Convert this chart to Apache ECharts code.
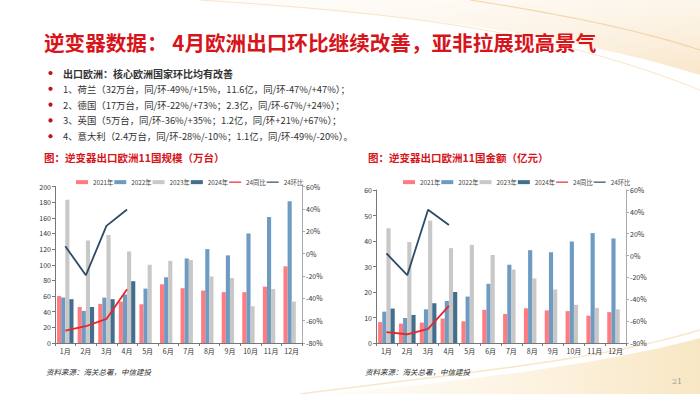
<!DOCTYPE html>
<html><head><meta charset="utf-8">
<script src="https://cdn.jsdelivr.net/npm/echarts@6/dist/echarts.min.js"></script>
<style>html,body{margin:0;padding:0;background:#fff;}#c{width:700px;height:394px;}</style>
</head><body><div id="c"></div>
<script>
const months = ['1月','2月','3月','4月','5月','6月','7月','8月','9月','10月','11月','12月'];
const seriesNames = ['2021年','2022年','2023年','2024年','24同比','24环比'];
// 规模（万台）
const scale2021 = [60,46,50,53,49.5,75,70,67,65,65,72,98];
const scale2022 = [58,41,58,62,69.5,84,108,120,112,140,161,181];
const scale2023 = [183,131,138,117,100,105,106,85,83,47,69,53];
const scale2024 = [56,46,56,79];
const scaleYoY = [-69,-65,-58.5,-32];
const scaleMoM = [6.6,-19.4,24.8,39.4];
// 金额（亿元）
const amount2021 = [8.2,7.6,8,9.6,8.5,13,11.4,13.6,12.8,12.5,10.7,12.1];
const amount2022 = [12.3,9.8,13.2,16.5,18.2,23.2,30.7,36.4,35.6,39.8,43.1,41];
const amount2023 = [45,39.6,48,37.2,38.5,34.5,28.8,25.3,21,15,13.8,13.2];
const amount2024 = [13.5,11,15.6,20];
const amountYoY = [-70,-72,-67,-46];
const amountMoM = [2,-18,42,28];
// texts
const slideTitle = '逆变器数据： 4月欧洲出口环比继续改善，亚非拉展现高景气';
const bulletHead = '出口欧洲：核心欧洲国家环比均有改善';
const bulletLines = [
  '1、荷兰（32万台，同/环-49%/+15%，11.6亿，同/环-47%/+47%）；',
  '2、德国（17万台，同/环-22%/+73%；2.3亿，同/环-67%/+24%）；',
  '3、英国（5万台，同/环-36%/+35%；1.2亿，同/环+21%/+67%）；',
  '4、意大利（2.4万台，同/环-28%/-10%；1.1亿，同/环-49%/-20%）。'
];
const chartTitles = ['图：逆变器出口欧洲11国规模（万台）','图：逆变器出口欧洲11国金额（亿元）'];
const sourceText = '资料来源：海关总署，中信建投';
const pageNum = '21';

const FONT = '"Noto Sans CJK SC","Noto Sans",sans-serif';
const colors = ['#FF7B7F','#6E9BC1','#C8C8C8','#436F8F','#E8262A','#2D4A66'];
const chart = echarts.init(document.getElementById('c'), null, {renderer:'svg'});

const grids = [
  {left:55, top:186.5, width:247, height:156.5},
  {left:376, top:190, width:250, height:153}
];
const axisTxt = {fontSize:7, color:'#333', fontFamily:FONT};
function xAx(i){return {type:'category', gridIndex:i, data:months,
  axisLine:{lineStyle:{color:'#777',width:1}},
  axisTick:{show:true,length:3,lineStyle:{color:'#777'}},
  axisLabel:Object.assign({margin:4},axisTxt)};}
function yAx(i,max,interval){return {type:'value', gridIndex:i, min:0, max:max, interval:interval,
  splitLine:{show:false}, axisLine:{show:true,lineStyle:{color:'#777'}},
  axisTick:{show:true,length:3,lineStyle:{color:'#777'}},
  axisLabel:Object.assign({margin:4},axisTxt)};}
function yPct(i){return {type:'value', gridIndex:i, min:-80, max:60, interval:20, position:'right',
  splitLine:{show:false}, axisLine:{show:true,lineStyle:{color:'#aaa'}},
  axisTick:{show:true,length:3,lineStyle:{color:'#aaa'}},
  axisLabel:Object.assign({margin:4,formatter:'{value}%'},axisTxt)};}

function bars(gi, arrs){
  return arrs.map((d,k)=>({name:seriesNames[k], type:'bar', xAxisIndex:gi, yAxisIndex:gi*2,
    data:d, barGap:'0%', barCategoryGap:'20%', itemStyle:{color:colors[k]}}));
}
function lines(gi, yoy, mom){
  return [
    {name:seriesNames[4], type:'line', xAxisIndex:gi, yAxisIndex:gi*2+1, data:yoy, symbol:'none',
     lineStyle:{color:colors[4],width:1.8}, itemStyle:{color:colors[4]}, z:5},
    {name:seriesNames[5], type:'line', xAxisIndex:gi, yAxisIndex:gi*2+1, data:mom, symbol:'none',
     lineStyle:{color:colors[5],width:1.8}, itemStyle:{color:colors[5]}, z:5}
  ];
}
const lineIcon = 'path://M0,0H24V2.4H0Z';
function legend(left){return {left:left, top:174, itemWidth:12, itemHeight:4, itemGap:1,
  textStyle:{fontSize:6.3,color:'#444',fontFamily:FONT},
  data:seriesNames.map((n,k)=>k<4?{name:n,icon:'rect'}:{name:n,icon:lineIcon}) };}

// decorative curve helper (cubic bezier sampled into points)
function bez(p0,p1,p2,p3,n){const pts=[];for(let i=0;i<=n;i++){const t=i/n,u=1-t;
  pts.push([u*u*u*p0[0]+3*u*u*t*p1[0]+3*u*t*t*p2[0]+t*t*t*p3[0], u*u*u*p0[1]+3*u*u*t*p1[1]+3*u*t*t*p2[1]+t*t*t*p3[1]]);}return pts;}

const gfx = [];
const topCurve = bez([130,0],[330,8],[520,20],[700,75],30);
gfx.push({type:'polygon', silent:true, z:-5, shape:{points:topCurve.concat([[700,0]])},
  style:{fill:new echarts.graphic.LinearGradient(0,0,1,1,[{offset:0,color:'rgba(250,235,210,0)'},{offset:0.6,color:'rgba(248,228,196,0.45)'},{offset:1,color:'rgba(245,210,160,0.55)'}])}});
gfx.push({type:'polyline', silent:true, z:-4, shape:{points:bez([200,0],[420,14],[560,34],[700,90],30)},
  style:{stroke:'rgba(240,205,150,0.5)', lineWidth:1}});
gfx.push({type:'polyline', silent:true, z:-4, shape:{points:bez([470,0],[560,14],[640,30],[700,50],30)},
  style:{stroke:'rgba(240,190,120,0.55)', lineWidth:1.2}});
const botCurve = bez([330,394],[470,380],[600,365],[700,338],30);
gfx.push({type:'polygon', silent:true, z:-5, shape:{points:botCurve.concat([[700,394]])},
  style:{fill:new echarts.graphic.LinearGradient(0,0,1,0,[{offset:0,color:'rgba(252,240,215,0.2)'},{offset:1,color:'rgba(246,222,175,0.75)'}])}});
gfx.push({type:'polyline', silent:true, z:-4, shape:{points:bez([300,394],[470,372],[600,360],[700,330],30)},
  style:{stroke:'rgba(243,215,165,0.6)', lineWidth:1.5}});
// title
gfx.push({type:'text', x:44, y:42, style:{text:slideTitle, font:'bold 20.6px '+FONT, fill:'#D7141A', textVerticalAlign:'middle'}});
// bullets
const bulletY = [73, 88.8, 104.6, 120.4, 136.2];
[bulletHead].concat(bulletLines).forEach((t,i)=>{
  gfx.push({type:'circle', shape:{cx:50.5, cy:bulletY[i], r:2.1}, style:{fill:'#C0141A'}});
  gfx.push({type:'text', x:63, y:bulletY[i], style:{text:t, font:(i===0?'bold 10px ':'9.4px ')+FONT, fill:'#333', textVerticalAlign:'middle'}});
});
gfx.push({type:'text', x:44, y:157, style:{text:chartTitles[0], font:'bold 10.5px '+FONT, fill:'#D7141A', textVerticalAlign:'middle'}});
gfx.push({type:'text', x:368, y:157, style:{text:chartTitles[1], font:'bold 10.5px '+FONT, fill:'#D7141A', textVerticalAlign:'middle'}});
gfx.push({type:'text', x:46, y:371, style:{text:sourceText, font:'italic 7.5px '+FONT, fill:'#333', textVerticalAlign:'middle'}});
gfx.push({type:'text', x:365, y:371, style:{text:sourceText, font:'italic 7.5px '+FONT, fill:'#333', textVerticalAlign:'middle'}});
gfx.push({type:'text', x:672, y:381, style:{text:pageNum, font:'8px "DejaVu Serif",serif', fill:'#999', textVerticalAlign:'middle'}});

chart.setOption({
  animation:false,
  textStyle:{fontFamily:FONT},
  graphic:{elements:gfx},
  grid:grids,
  legend:[legend(71), legend(398)],
  xAxis:[xAx(0), xAx(1)],
  yAxis:[yAx(0,200,20), yPct(0), yAx(1,60,10), yPct(1)],
  series:[].concat(
    bars(0,[scale2021,scale2022,scale2023,scale2024]),
    lines(0,scaleYoY,scaleMoM),
    bars(1,[amount2021,amount2022,amount2023,amount2024]),
    lines(1,amountYoY,amountMoM)
  )
});
</script></body></html>
